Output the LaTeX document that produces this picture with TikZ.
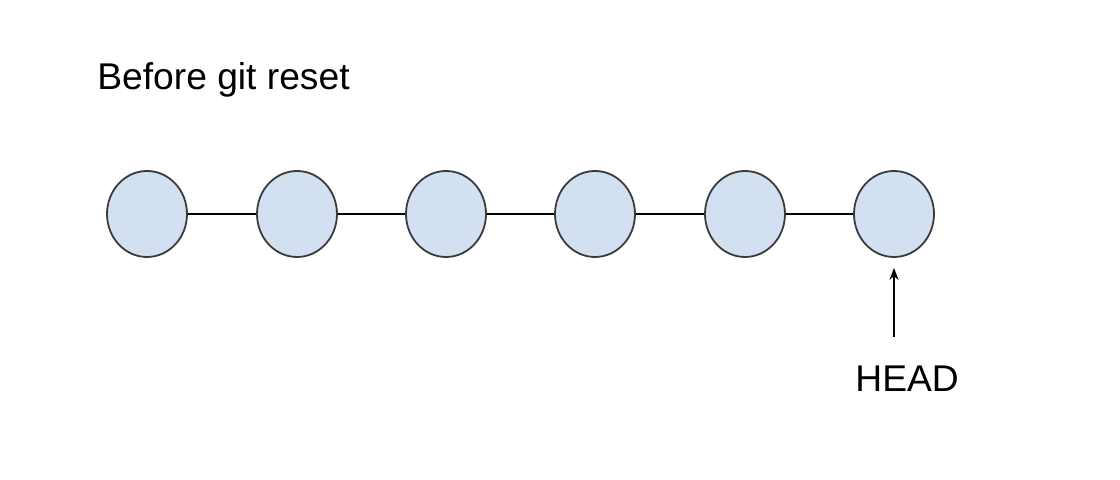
\documentclass[tikz,border=0pt]{standalone}
\usepackage{fontspec}
\setmainfont{Liberation Sans}
\usetikzlibrary{shapes.geometric,arrows.meta}
\definecolor{commitfill}{HTML}{D3E0F1}
\definecolor{commitline}{HTML}{3A3A3A}

\begin{document}
\begin{tikzpicture}[x=0.5pt,y=-0.5pt,
		commit/.style={ellipse, draw=commitline, line width=0.9pt, fill=commitfill, minimum width=40pt, minimum height=43pt, inner sep=0pt},
		label/.style={font=\fontsize{18.6pt}{22pt}\selectfont, inner sep=0pt, anchor=base west}]
				\useasboundingbox (0,0) rectangle (1120,480);
				\node[label] (title) at (97,90) {Before git reset};
				\node[commit] (c1) at (147,214) {};
				\node[commit] (c2) at (297,214) {};
				\node[commit] (c3) at (446,214) {};
				\node[commit] (c4) at (595,214) {};
				\node[commit] (c5) at (745,214) {};
				\node[commit] (c6) at (894,214) {};
				\draw[line width=0.8pt] (c1) -- (c2);
				\draw[line width=0.8pt] (c2) -- (c3);
				\draw[line width=0.8pt] (c3) -- (c4);
				\draw[line width=0.8pt] (c4) -- (c5);
				\draw[line width=0.8pt] (c5) -- (c6);
				%pointer
				\node[label] (head) at (855,392) {HEAD};
				\coordinate (headtail) at (894,337);
				\draw[line width=0.8pt, -{Stealth[length=6pt,width=4.5pt]}, shorten >=5pt] (headtail) -- (c6.south);
			\end{tikzpicture}
\end{document}
